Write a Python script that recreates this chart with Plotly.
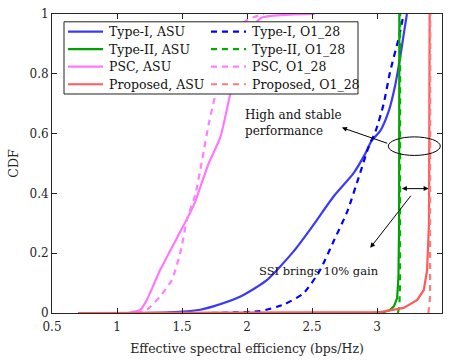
import plotly.graph_objects as go

# ---- data ----
t1_asu_x = [1.10, 1.40, 1.64, 1.74, 1.95, 2.15, 2.36, 2.51, 2.67, 2.82, 2.91, 2.96, 3.025, 3.09, 3.14, 3.18, 3.205, 3.23]
t1_asu_y = [0, 0.002, 0.011, 0.022, 0.055, 0.109, 0.207, 0.294, 0.392, 0.468, 0.533, 0.577, 0.609, 0.675, 0.762, 0.86, 0.93, 1.0]
t1_o_x = [1.72, 1.90, 2.10, 2.28, 2.435, 2.56, 2.666, 2.77, 2.87, 2.935, 2.99, 3.05, 3.10, 3.17, 3.205]
t1_o_y = [0, 0.002, 0.006, 0.028, 0.066, 0.142, 0.24, 0.338, 0.468, 0.555, 0.609, 0.697, 0.805, 0.925, 1.0]
t2_asu_x = [2.95, 3.05, 3.10, 3.13, 3.155, 3.165, 3.17, 3.172]
t2_asu_y = [0, 0.003, 0.01, 0.022, 0.05, 0.12, 0.3, 1.0]
t2_o_x = [3.16, 3.172, 3.177, 3.178]
t2_o_y = [0, 0.02, 0.1, 1.0]
psc_asu_x = [1.08, 1.18, 1.23, 1.33, 1.46, 1.59, 1.705, 1.795, 1.87, 1.95, 2.10, 2.30, 2.52]
psc_asu_y = [0, 0.011, 0.044, 0.142, 0.25, 0.36, 0.50, 0.588, 0.729, 0.86, 0.985, 0.997, 1.0]
psc_o_x = [1.15, 1.23, 1.33, 1.42, 1.49, 1.54, 1.60, 1.654, 1.705, 1.756, 1.85, 2.0, 2.13]
psc_o_y = [0, 0.011, 0.055, 0.109, 0.207, 0.316, 0.392, 0.51, 0.631, 0.729, 0.9, 0.98, 1.0]
pro_asu_x = [0.70, 1.5, 2.0, 2.5, 2.8, 3.025, 3.205, 3.31, 3.36, 3.385, 3.40, 3.405]
pro_asu_y = [0, 0.0005, 0.001, 0.0015, 0.002, 0.003, 0.017, 0.044, 0.077, 0.142, 0.3, 1.0]
pro_o_x = [3.395, 3.408, 3.41]
pro_o_y = [0, 0.05, 1.0]

x_ticks = [0.5, 1, 1.5, 2, 2.5, 3, 3.5]
x_tick_text = ["0.5", "1", "1.5", "2", "2.5", "3", "3.5"]
y_ticks = [0, 0.2, 0.4, 0.6, 0.8, 1]
y_tick_text = ["0", "0.2", "0.4", "0.6", "0.8", "1"]

FONT = "DejaVu Serif"
AX = "#262626"
DASH = "6px,5px"

# (name, x, y, colour, dashed, smooth, legend column, legend row)
series = [
    ("Type-I, ASU", t1_asu_x, t1_asu_y, "#3a3af5", False, True, 0, 0),
    ("Type-I, O1_28", t1_o_x, t1_o_y, "#0000ff", True, True, 1, 0),
    ("Type-II, ASU", t2_asu_x, t2_asu_y, "#00a000", False, False, 0, 1),
    ("Type-II, O1_28", t2_o_x, t2_o_y, "#00b000", True, False, 1, 1),
    ("PSC, ASU", psc_asu_x, psc_asu_y, "#ff77ff", False, True, 0, 2),
    ("PSC, O1_28", psc_o_x, psc_o_y, "#ff80ff", True, True, 1, 2),
    ("Proposed, ASU", pro_asu_x, pro_asu_y, "#ff5a5a", False, False, 0, 3),
    ("Proposed, O1_28", pro_o_x, pro_o_y, "#ff7a7a", True, False, 1, 3),
]

fig = go.Figure()
for name, xs, ys, col, dashed, smooth, c, r in series:
    fig.add_trace(go.Scatter(
        x=xs, y=ys, mode="lines", name=name, showlegend=False,
        line=dict(color=col, width=2.2, dash=(DASH if dashed else "solid"),
                  shape=("spline" if smooth else "linear"),
                  smoothing=(0.6 if smooth else None)),
    ))

L, R, T, B = 52, 9, 7, 46.5
W, H = 451, 360
pw, ph = W - L - R, H - T - B

def px(xp):
    return (xp - L) / pw

def py(yp):
    return (H - B - yp) / ph

fig.update_layout(
    width=W, height=H,
    margin=dict(l=L, r=R, t=T, b=B),
    paper_bgcolor="white", plot_bgcolor="white",
    font=dict(family=FONT, size=12, color=AX),
    showlegend=False,
)

fig.update_xaxes(range=[0.5, 3.5], tickvals=x_ticks, ticktext=x_tick_text,
                 ticks="inside", ticklen=5, tickcolor=AX, showline=True, linecolor=AX,
                 linewidth=1, mirror="ticks", showgrid=False, zeroline=False,
                 ticklabelstandoff=3,
                 tickfont=dict(size=12, color=AX),
                 title=dict(text="Effective spectral efficiency (bps/Hz)", standoff=10,
                            font=dict(size=12.5, color=AX)))
fig.update_yaxes(range=[0, 1], tickvals=y_ticks, ticktext=y_tick_text,
                 ticks="inside", ticklen=5, tickcolor=AX, showline=True, linecolor=AX,
                 linewidth=1, mirror="ticks", showgrid=False, zeroline=False,
                 tickfont=dict(size=12, color=AX),
                 title=dict(text="CDF", standoff=8, font=dict(size=12.5, color=AX)))

# legend box (white, covers the curves behind it)
fig.add_shape(type="rect", xref="paper", yref="paper",
              x0=px(64), x1=px(358), y0=py(89), y1=py(15),
              line=dict(color="#222", width=1), fillcolor="white", layer="above")

# legend entries
col_line_x = [68, 211]
line_len = 35
row_y = [25, 43, 61, 79]
for name, xs, ys, col, dashed, smooth, c, r in series:
    x0 = col_line_x[c]
    yy = py(row_y[r])
    fig.add_shape(type="line", xref="paper", yref="paper",
                  x0=px(x0), x1=px(x0 + line_len), y0=yy, y1=yy,
                  line=dict(color=col, width=2.2, dash=(DASH if dashed else "solid")),
                  layer="above")
    fig.add_annotation(x=px(x0 + line_len + 4), y=yy, xref="paper", yref="paper",
                       xanchor="left", yanchor="middle", text=name, showarrow=False,
                       font=dict(family=FONT, size=12.5, color="#111"))

# ellipse
fig.add_shape(type="circle", xref="x", yref="y", x0=3.087, x1=3.487, y0=0.527, y1=0.589,
              line=dict(color="black", width=1), layer="above")

fig.add_annotation(x=2.73, y=0.62, ax=3.09, ay=0.566, xref="x", yref="y", axref="x", ayref="y",
                   text="", showarrow=True, arrowhead=2, arrowsize=1, arrowwidth=1, arrowcolor="black")
fig.add_annotation(x=3.397, y=0.416, ax=3.18, ay=0.416, xref="x", yref="y", axref="x", ayref="y",
                   text="", showarrow=True, arrowhead=2, startarrowhead=2, arrowside="end+start",
                   arrowsize=1, arrowwidth=1, arrowcolor="black")
fig.add_annotation(x=2.948, y=0.218, ax=3.269, ay=0.397, xref="x", yref="y", axref="x", ayref="y",
                   text="", showarrow=True, arrowhead=2, arrowsize=1, arrowwidth=1, arrowcolor="black")

fig.add_annotation(x=1.97, y=0.635, xref="x", yref="y", xanchor="left", yanchor="middle", align="left",
                   text="High and stable<br>performance", showarrow=False,
                   font=dict(family=FONT, size=12, color="#111"))
fig.add_annotation(x=2.55, y=0.139, xref="x", yref="y", xanchor="center", yanchor="middle",
                   text="SSI brings 10% gain", showarrow=False,
                   font=dict(family=FONT, size=11.5, color="#111"))

fig.write_html("out.html")
